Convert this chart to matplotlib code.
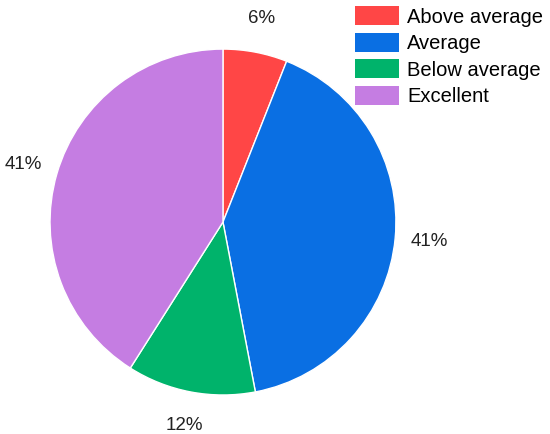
import matplotlib
matplotlib.use("Agg")
import matplotlib.pyplot as plt
from matplotlib.patches import Patch

plt.rcParams['font.family'] = ['Liberation Sans', 'DejaVu Sans']

categories = ['Above average', 'Average', 'Below average', 'Excellent']
values = [6, 41, 12, 41]
colors = ['#FF4646', '#0A6FE3', '#00B36B', '#C57DE2']

fig = plt.figure(figsize=(5.5, 4.34), dpi=100)
ax = fig.add_axes([0.0909, 0.0899, 0.629, 0.797])

wedges, texts, autotexts = ax.pie(
    values, colors=colors, startangle=90, counterclock=False,
    autopct='%1.0f%%', pctdistance=1.2,
    wedgeprops=dict(edgecolor='white', linewidth=1),
    textprops=dict(fontsize=13.5, color='#222222'))
ax.set_aspect('equal')
ax.set_xlim(-1, 1)
ax.set_ylim(-1, 1)

handles = [Patch(facecolor=c, edgecolor='none') for c in colors]
fig.legend(handles, categories, loc='upper left',
           bbox_to_anchor=(355 / 550, 1 - 6 / 434), frameon=False,
           fontsize=14.5, handlelength=2.2, handleheight=1.1,
           handletextpad=0.4, labelspacing=0.3, borderpad=0,
           borderaxespad=0)

fig.savefig('out.png', dpi=100)
